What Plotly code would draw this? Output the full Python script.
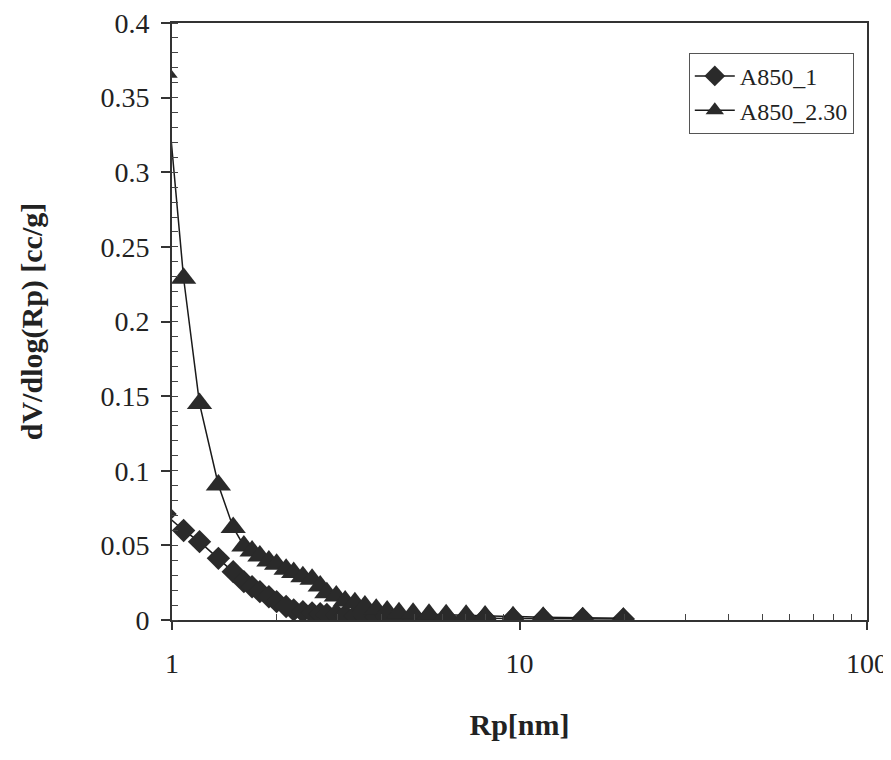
import plotly.graph_objects as go

# Pore radius grid (nm), shared by both samples
rp = [0.955, 1.08, 1.20, 1.36, 1.50, 1.61, 1.70, 1.79, 1.90, 2.00, 2.13, 2.24, 2.38,
      2.53, 2.67, 2.79, 2.97, 3.15, 3.36, 3.59, 3.87, 4.16, 4.50, 4.94, 5.49,
      6.15, 7.02, 7.96, 9.58, 11.7, 15.2, 19.9]

a850_1 = [0.071, 0.060, 0.0525, 0.0413, 0.0324, 0.0257, 0.0223, 0.019, 0.0156, 0.0123,
          0.009, 0.0067, 0.0056, 0.0048, 0.0042, 0.0037, 0.0033, 0.003, 0.0027,
          0.0024, 0.0022, 0.002, 0.0018, 0.0016, 0.0014, 0.0013, 0.0012, 0.0011,
          0.001, 0.0009, 0.0008, 0.0007]

a850_230 = [0.367, 0.229, 0.145, 0.0905, 0.062, 0.0496, 0.0462, 0.0429, 0.0395, 0.0373,
            0.034, 0.0318, 0.029, 0.0273, 0.0228, 0.0183, 0.0161, 0.0127, 0.0116,
            0.0094, 0.0072, 0.006, 0.0049, 0.0045, 0.0038, 0.0036, 0.0032, 0.0027,
            0.0021, 0.0018, 0.0015, 0.0012]

x_ticks = [1, 10, 100]
x_tick_text = ["1", "10", "100"]
y_ticks = [0, 0.05, 0.1, 0.15, 0.2, 0.25, 0.3, 0.35, 0.4]
y_tick_text = ["0", "0.05", "0.1", "0.15", "0.2", "0.25", "0.3", "0.35", "0.4"]
x_minor = [2, 3, 4, 5, 6, 7, 8, 9, 20, 30, 40, 50, 60, 70, 80, 90]

FONT = "Liberation Serif, Times New Roman, serif"
INK = "#2a2a2a"

fig = go.Figure()
fig.add_trace(go.Scatter(
    x=rp, y=a850_1, name="A850_1", mode="lines+markers",
    line=dict(color="#1a1a1a", width=1.5),
    marker=dict(symbol="diamond", size=18, color=INK),
))
fig.add_trace(go.Scatter(
    x=rp, y=a850_230, name="A850_2.30", mode="lines+markers",
    line=dict(color="#1a1a1a", width=1.5),
    marker=dict(symbol="triangle-up", size=22, color=INK),
))

fig.update_layout(
    width=891, height=760,
    margin=dict(l=164, r=32, t=15, b=148),
    paper_bgcolor="white", plot_bgcolor="white",
    font=dict(family=FONT, color="#222", size=28),
    showlegend=True,
    legend=dict(
        x=0.981, y=0.950, xanchor="right", yanchor="top",
        bordercolor="#555", borderwidth=1, bgcolor="white",
        font=dict(family=FONT, size=24, color="#222"),
        itemwidth=40, tracegroupgap=0,
    ),
    xaxis=dict(
        type="log", range=[0, 2], automargin=False,
        tickvals=x_ticks, ticktext=x_tick_text,
        ticks="outside", ticklen=8, tickwidth=1.5, tickcolor="#333",
        ticklabelstandoff=9, ticklabeloverflow="allow",
        showline=True, linecolor="#333", linewidth=2, mirror=True,
        showgrid=False, zeroline=False,
        minor=dict(tickvals=x_minor, ticks="inside", ticklen=6,
                   tickwidth=1, tickcolor="#444", showgrid=False),
        tickfont=dict(family=FONT, size=28, color="#222"),
        title=dict(text="<b>Rp[nm]</b>", standoff=36,
                   font=dict(family=FONT, size=30, color="#222")),
    ),
    yaxis=dict(
        range=[0, 0.4], automargin=False,
        tickvals=y_ticks, ticktext=y_tick_text,
        ticks="outside", ticklen=9, tickwidth=1.5, tickcolor="#333",
        ticklabelstandoff=6, ticklabeloverflow="allow",
        showline=True, linecolor="#333", linewidth=2, mirror=True,
        showgrid=False, zeroline=False,
        minor=dict(dtick=0.01, ticks="inside", ticklen=6,
                   tickwidth=1, tickcolor="#444", showgrid=False),
        tickfont=dict(family=FONT, size=28, color="#222"),
        title=dict(text="<b>dV/dlog(Rp) [cc/g]</b>", standoff=49,
                   font=dict(family=FONT, size=30, color="#222")),
    ),
)

fig.write_html("out.html")
